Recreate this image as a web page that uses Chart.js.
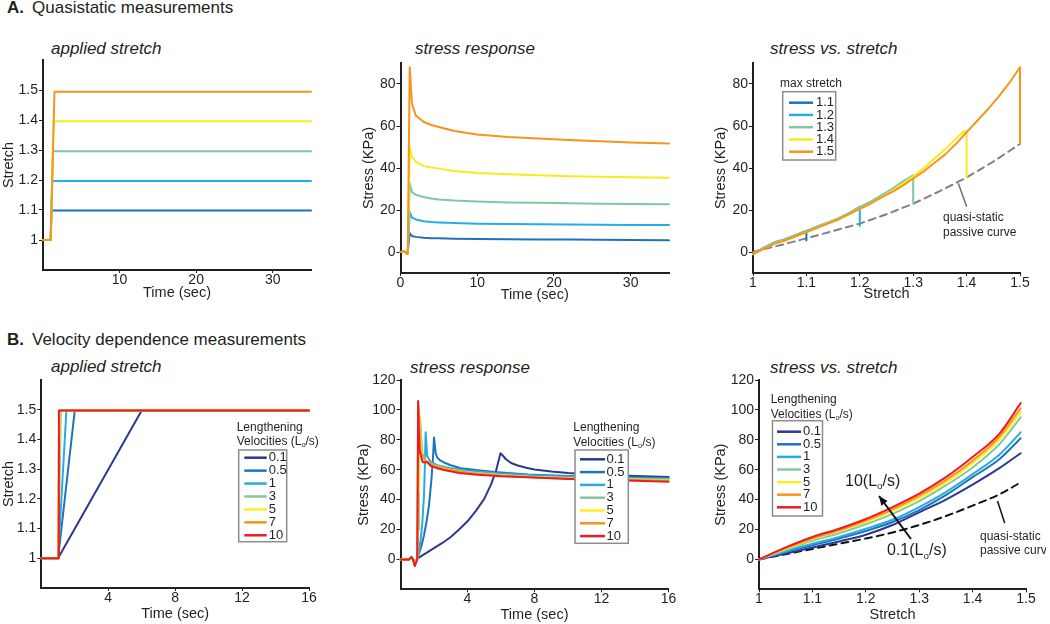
<!DOCTYPE html>
<html>
<head>
<meta charset="utf-8">
<script src="https://cdn.jsdelivr.net/npm/chart.js@4.4.0/dist/chart.umd.min.js"></script>
<style>
  html, body { margin: 0; padding: 0; background: #fff; }
  #page { position: relative; width: 1050px; height: 624px; overflow: hidden;
    font-family: "Liberation Sans", Arial, Helvetica, sans-serif; color: #231f20; }
  canvas { position: absolute; }
  .hd { position: absolute; font-size: 17px; line-height: 20px; white-space: nowrap; }
  .hd span { margin-left: 8px; }
  .pt { position: absolute; font-size: 17px; line-height: 20px; font-style: italic; white-space: nowrap; }
</style>
</head>
<body>
<div id="page">
  <div class="hd" style="left:7px;top:-2px"><b>A.</b><span>Quasistatic measurements</span></div>
  <div class="hd" style="left:7px;top:330px"><b>B.</b><span>Velocity dependence measurements</span></div>

  <div class="pt" style="left:51px;top:39px">applied stretch</div>
  <div class="pt" style="left:415px;top:39px">stress response</div>
  <div class="pt" style="left:770px;top:39px">stress vs. stretch</div>
  <div class="pt" style="left:51px;top:357px">applied stretch</div>
  <div class="pt" style="left:410px;top:358px">stress response</div>
  <div class="pt" style="left:770px;top:358px">stress vs. stretch</div>

  <canvas id="a1"></canvas>
  <canvas id="a2"></canvas>
  <canvas id="a3"></canvas>
  <canvas id="b1"></canvas>
  <canvas id="b2"></canvas>
  <canvas id="b3"></canvas>
</div>

<script>
const FONT = '"Liberation Sans", Arial, Helvetica, sans-serif'
const INK = '#231f20'

// ---- A. quasistatic ----
const maxStretch = ['1.1', '1.2', '1.3', '1.4', '1.5']
const colorsA = ['#1f72b8', '#25aee6', '#80c89d', '#f6ec1c', '#f7941d']

const a1Time = [
  [0, 1, 1.1, 35],
  [0, 1, 1.2, 35],
  [0, 1, 1.3, 35],
  [0, 1, 1.4, 35],
  [0, 1, 1.5, 35]
]
const a1Stretch = [
  [1, 1, 1.098, 1.098],
  [1, 1, 1.197, 1.197],
  [1, 1, 1.296, 1.296],
  [1, 1, 1.396, 1.396],
  [1, 1, 1.494, 1.494]
]

const a2Time = [0, 0.5, 0.85, 0.95, 1.2, 1.5, 2, 3, 4, 5, 7, 10, 14, 18, 22, 26, 30, 35]
const a2Stress = [
  [0, 0.3, -0.5, 0, 9, 7.6, 7.2, 6.8, 6.6, 6.5, 6.3, 6.2, 6.1, 6.0, 5.9, 5.8, 5.7, 5.6],
  [0, 0.3, -0.5, 0, 19, 16.4, 15.5, 14.6, 14.3, 14.1, 13.8, 13.5, 13.3, 13.2, 13.1, 13.0, 12.9, 12.9],
  [0, 0.3, -0.5, 0, 32.6, 28.6, 27.2, 26.2, 25.5, 25, 24.5, 24, 23.6, 23.4, 23.2, 23, 22.9, 22.7],
  [0, 0.3, -0.5, 0, 50, 45.2, 43, 41, 40.2, 39.7, 38.6, 37.6, 37, 36.5, 36.1, 35.8, 35.6, 35.4],
  [0, 0.3, -1, 0, 88, 70.5, 65, 62, 60.5, 59.5, 57.6, 56, 54.8, 54, 53.3, 52.7, 52.2, 51.7]
]

const a3Stretch = [
  [1, 1.02, 1.04, 1.06, 1.08, 1.1, 1.1],
  [1, 1.02, 1.04, 1.06, 1.08, 1.1, 1.12, 1.14, 1.16, 1.18, 1.2, 1.2],
  [1, 1.02, 1.04, 1.06, 1.08, 1.1, 1.12, 1.14, 1.16, 1.18, 1.2, 1.22, 1.24, 1.26, 1.28, 1.3, 1.3],
  [1, 1.02, 1.04, 1.06, 1.08, 1.1, 1.12, 1.14, 1.16, 1.18, 1.2, 1.22, 1.24, 1.26, 1.28, 1.3, 1.32, 1.34, 1.36, 1.38, 1.395, 1.4, 1.4],
  [1, 1.02, 1.04, 1.06, 1.08, 1.1, 1.12, 1.14, 1.16, 1.18, 1.2, 1.22, 1.24, 1.26, 1.28, 1.3, 1.32, 1.34, 1.36, 1.38, 1.4, 1.42, 1.44, 1.46, 1.48, 1.5, 1.5]
]
const a3Stress = [
  [-1, 2, 4.5, 6, 8, 10, 5.5],
  [-1, 2, 4.5, 6, 8, 10, 12, 14, 16, 18.5, 21.5, 12.5],
  [-1, 2, 4.5, 6, 8, 10, 12, 14, 16, 18.5, 21.5, 24, 27, 30, 33.5, 36.5, 23],
  [-1, 1.5, 4, 5.5, 7.5, 9.5, 11.5, 13.5, 15.5, 18, 20.5, 23, 26, 29, 32.5, 36, 40, 44.5, 49, 54, 57.5, 57, 35.5],
  [-1, 1.5, 4, 5.5, 7.5, 9.5, 11.5, 13.5, 15.5, 18, 20.5, 23, 26, 28.5, 31.5, 35, 38.5, 42.5, 46.5, 51.5, 57, 62.5, 68, 74, 80.5, 88, 51.5]
]
const a3PassiveStretch = [1, 1.05, 1.1, 1.15, 1.2, 1.25, 1.3, 1.35, 1.4, 1.45, 1.5]
const a3PassiveStress = [0, 3.2, 6.5, 10, 13.5, 18, 23, 29, 35.5, 43, 51.5]

// ---- B. velocity dependence ----
const velocities = ['0.1', '0.5', '1', '3', '5', '7', '10']
const colorsB = ['#2b3990', '#1c75bc', '#29abe2', '#86c89c', '#fbee23', '#f7941d', '#ed1c24']

const b1Time = [
  [0, 1, 6, 16],
  [0, 1, 2, 16],
  [0, 1, 1.5, 16],
  [0, 1, 1.17, 16],
  [0, 1, 1.1, 16],
  [0, 1, 1.07, 16],
  [0, 1, 1.05, 16]
]
const b1Stretch = [1, 1, 1.497, 1.497]

const b2Time = [
  [0, 0.5, 0.65, 0.75, 0.85, 1.0, 1.5, 2.0, 2.5, 3.0, 3.5, 4.0, 4.5, 5.0, 5.4, 5.7, 5.97, 6.1, 6.3, 6.6, 7, 7.5, 8, 9, 10, 11, 12, 14, 16],
  [0, 0.5, 0.65, 0.75, 0.85, 1.0, 1.1, 1.25, 1.4, 1.55, 1.7, 1.85, 1.95, 2.0, 2.1, 2.2, 2.4, 2.7, 3, 3.6, 4.5, 5.6, 7.6, 10, 12, 14, 16],
  [0, 0.5, 0.65, 0.75, 0.85, 1.0, 1.1, 1.2, 1.3, 1.4, 1.45, 1.5, 1.6, 1.8, 2.2, 3, 4, 6, 8, 10, 12, 16],
  [0, 0.5, 0.65, 0.75, 0.85, 1.0, 1.05, 1.1, 1.17, 1.3, 1.5, 2, 3, 4, 6, 8, 12, 16],
  [0, 0.5, 0.65, 0.75, 0.85, 1.0, 1.05, 1.1, 1.25, 1.5, 2, 3, 4, 6, 8, 12, 16],
  [0, 0.5, 0.65, 0.75, 0.85, 1.0, 1.07, 1.2, 1.5, 2, 3, 4, 6, 8, 12, 16],
  [0, 0.5, 0.65, 0.75, 0.85, 1.0, 1.05, 1.13, 1.33, 1.6, 1.82, 2.2, 2.6, 3.5, 4.6, 6, 7.6, 10, 12, 16]
]
const b2Stress = [
  [0, 0, 1.5, 0, -3, 0.5, 4, 7.5, 11, 15, 20, 25.5, 32.5, 40.5, 50, 59, 71, 69.5, 67, 64.5, 62.8, 61.3, 60.2, 58.8, 57.8, 57.1, 56.6, 55.8, 55.2],
  [0, 0, 1.5, 0, -3, 0.5, 4, 9, 16, 25, 36, 54, 70, 81.5, 71, 68, 66, 64.3, 63, 61, 59.8, 58.4, 56.8, 55.8, 55.2, 54.8, 54.5],
  [0, 0, 1.5, 0, -3, 0.5, 6, 13, 24, 42, 60, 85, 69, 65, 63, 61, 59.5, 57.5, 56.3, 55.5, 54.8, 54],
  [0, 0, 1.5, 0, -3, 0.5, 20, 45, 95, 71, 66, 63, 60, 58.5, 56.5, 55.3, 54, 53.5],
  [0, 0, 1.5, 0, -3.5, 0.5, 45, 100, 71, 66, 62.5, 60, 58.2, 56.3, 55, 53.7, 53],
  [0, 0, 1.5, 0, -4, 0.5, 103, 72, 66, 62.5, 59.8, 58, 56, 54.8, 53.4, 52.6],
  [0, 0, 1.5, 0, -4.5, 0, 106, 73, 65, 65, 62.5, 61, 59.8, 57.8, 56.6, 55.6, 55, 53.8, 53.2, 52]
]

const b3Stretch = [1, 1.05, 1.1, 1.15, 1.2, 1.25, 1.3, 1.35, 1.4, 1.45, 1.49]
const b3Stress = [
  [0, 4, 8, 12, 16.5, 23, 31.5, 40, 50, 61, 71],
  [0, 5, 9.5, 14, 19, 25, 33, 43, 55, 67, 81],
  [0, 5.5, 10.5, 15, 20.5, 26.5, 35, 45, 57, 70, 85],
  [0, 6.5, 12.5, 17.5, 23.5, 30.5, 39, 49.5, 61.5, 77, 95],
  [0, 7, 13.5, 19, 25, 32.5, 41, 51.5, 64.5, 80, 98.5],
  [0, 7.5, 14, 19.5, 26, 33.5, 42.5, 53, 66, 82, 101],
  [0, 8, 15, 20.5, 27, 35, 44, 55, 68.5, 84, 104.5]
]
const b3PassiveStress = [0, 3.5, 7, 10.5, 14, 18, 23, 29, 36, 43.5, 51.5]

// tick labels
const ticksStretchY = [1, 1.1, 1.2, 1.3, 1.4, 1.5]
const ticksA1X = [10, 20, 30]
const ticksA2X = [0, 10, 20, 30]
const ticksStressA = [0, 20, 40, 60, 80]
const ticksStretchX = [1, 1.1, 1.2, 1.3, 1.4, 1.5]
const ticksTimeB = [4, 8, 12, 16]
const ticksStressB = [0, 20, 40, 60, 80, 100, 120]

const toPoints = (xs, ys) => xs.map((x, i) => ({ x, y: ys[i] }))

function series(labels, colors, xsList, ysList, smooth) {
  const n = labels.length
  return labels.map((label, i) => ({
    label,
    data: toPoints(Array.isArray(xsList[0]) ? xsList[i] : xsList, Array.isArray(ysList[0]) ? ysList[i] : ysList),
    borderColor: colors[i],
    borderWidth: 2,
    cubicInterpolationMode: smooth ? 'monotone' : 'default',
    order: n - i + 1,
    clip: false
  }))
}

// draws text pieces, a piece with sub:true is a lowered small letter
function richText(ctx, segs, x, y, size) {
  ctx.textBaseline = 'middle'
  ctx.textAlign = 'left'
  let cx = x
  for (const s of segs) {
    const sz = s.sub ? size * 0.62 : size
    ctx.font = sz + 'px ' + FONT
    ctx.fillText(s.t, cx, s.sub ? y + size * 0.3 : y)
    cx += ctx.measureText(s.t).width
  }
}

const extrasPlugin = {
  id: 'extras',
  afterDatasetsDraw(chart, args, opts) {
    const ctx = chart.ctx
    const ox = opts.ox, oy = opts.oy
    ctx.save()
    ctx.fillStyle = INK
    const lg = opts.legend
    if (lg) {
      lg.title.forEach((segs, i) => richText(ctx, segs, lg.titleX - ox, lg.titleY[i] - oy, 12))
      ctx.fillStyle = '#fff'
      ctx.fillRect(lg.box[0] - ox, lg.box[1] - oy, lg.box[2] - lg.box[0], lg.box[3] - lg.box[1])
      ctx.strokeStyle = '#8c8c8c'
      ctx.lineWidth = 1.5
      ctx.strokeRect(lg.box[0] - ox, lg.box[1] - oy, lg.box[2] - lg.box[0], lg.box[3] - lg.box[1])
      lg.labels.forEach((label, i) => {
        const y = lg.row0 + i * lg.step - oy
        ctx.strokeStyle = lg.colors[i]
        ctx.lineWidth = 2.5
        ctx.beginPath()
        ctx.moveTo(lg.line[0] - ox, y)
        ctx.lineTo(lg.line[1] - ox, y)
        ctx.stroke()
        ctx.fillStyle = INK
        richText(ctx, [{ t: label }], lg.labelX - ox, y, 13)
      })
    }
    for (const a of opts.notes || []) {
      if (a.text) {
        ctx.fillStyle = INK
        richText(ctx, a.text, a.x - ox, a.y - oy, a.size)
      } else {
        ctx.strokeStyle = a.color
        ctx.lineWidth = a.width
        ctx.beginPath()
        ctx.moveTo(a.x1 - ox, a.y1 - oy)
        ctx.lineTo(a.x2 - ox, a.y2 - oy)
        ctx.stroke()
        if (a.arrow) {
          const ang = Math.atan2(a.y2 - a.y1, a.x2 - a.x1)
          const hx = a.x2 - ox, hy = a.y2 - oy
          ctx.fillStyle = a.color
          ctx.beginPath()
          ctx.moveTo(hx, hy)
          ctx.lineTo(hx - 10 * Math.cos(ang - 0.4), hy - 10 * Math.sin(ang - 0.4))
          ctx.lineTo(hx - 10 * Math.cos(ang + 0.4), hy - 10 * Math.sin(ang + 0.4))
          ctx.closePath()
          ctx.fill()
        }
      }
    }
    ctx.restore()
  }
}

function axis(isX, p) {
  const list = isX ? p.xTicks : p.yTicks
  return {
    type: 'linear',
    min: isX ? p.xMin : p.yMin,
    max: isX ? p.xMax : p.yMax,
    afterBuildTicks: s => { s.ticks = list.map(v => ({ value: v })) },
    afterFit: s => {
      if (isX) s.height = p.hx
      else s.width = p.wy
      s.paddingLeft = 0; s.paddingRight = 0; s.paddingTop = 0; s.paddingBottom = 0
    },
    grid: { display: true, drawOnChartArea: false, drawTicks: true, tickLength: isX ? 3 : 4, color: INK, lineWidth: 1 },
    border: { display: true, color: INK, width: 2 },
    ticks: {
      color: INK, font: { family: FONT, size: 14, lineHeight: 1 }, padding: isX ? 0 : 1,
      maxRotation: 0, autoSkip: false, callback: v => String(v)
    },
    title: { display: true, text: isX ? p.xTitle : p.yTitle, color: INK, font: { family: FONT, size: 14.5 }, padding: 0 }
  }
}

function panel(p) {
  const canvas = document.getElementById(p.id)
  canvas.width = p.w
  canvas.height = p.h
  canvas.style.left = p.left + 'px'
  canvas.style.top = p.top + 'px'
  return new Chart(canvas, {
    type: 'line',
    data: { datasets: p.datasets },
    options: {
      responsive: false,
      animation: false,
      events: [],
      layout: { padding: { left: 0, top: p.pt, right: p.pr, bottom: p.pb } },
      elements: { point: { radius: 0 }, line: { tension: 0, borderCapStyle: 'round', borderJoinStyle: 'round' } },
      plugins: {
        legend: { display: false },
        tooltip: { enabled: false },
        extras: { ox: p.left, oy: p.top, legend: p.legend, notes: p.notes }
      },
      scales: { x: axis(true, p), y: axis(false, p) }
    },
    plugins: [extrasPlugin]
  })
}

const velTitle = [[{ t: 'Lengthening' }], [{ t: 'Velocities (L' }, { t: 'o', sub: true }, { t: '/s)' }]]

// A1 applied stretch
panel({
  id: 'a1', left: 0, top: 50, w: 317, h: 254, pt: 10, pr: 6, pb: 2, wy: 43, hx: 32,
  xMin: 0, xMax: 35, yMin: 0.9, yMax: 1.6, xTicks: ticksA1X, yTicks: ticksStretchY,
  xTitle: 'Time (sec)', yTitle: 'Stretch',
  datasets: series(maxStretch, colorsA, a1Time, a1Stretch)
})

// A2 stress response
panel({
  id: 'a2', left: 360, top: 53, w: 315, h: 253, pt: 10, pr: 6, pb: 2, wy: 40.5, hx: 31,
  xMin: 0, xMax: 35, yMin: -10, yMax: 90, xTicks: ticksA2X, yTicks: ticksStressA,
  xTitle: 'Time (sec)', yTitle: 'Stress (KPa)',
  datasets: series(maxStretch, colorsA, a2Time, a2Stress)
})

// A3 stress vs stretch
panel({
  id: 'a3', left: 712, top: 53, w: 328, h: 252, pt: 10, pr: 20, pb: 2, wy: 41, hx: 30,
  xMin: 1, xMax: 1.5, yMin: -10, yMax: 90, xTicks: ticksStretchX, yTicks: ticksStressA,
  xTitle: 'Stretch', yTitle: 'Stress (KPa)',
  datasets: series(maxStretch, colorsA, a3Stretch, a3Stress).concat([{
    label: 'quasi-static passive curve',
    data: toPoints(a3PassiveStretch, a3PassiveStress),
    borderColor: '#808080', borderWidth: 2, borderDash: [7, 5], order: 20, clip: false
  }]),
  legend: {
    title: [[{ t: 'max stretch' }]], titleX: 780, titleY: [84],
    box: [782.7, 91.7, 835.7, 160], labels: maxStretch, colors: colorsA,
    row0: 102.7, step: 12.25, line: [789, 813], labelX: 816
  },
  notes: [
    { x1: 958.3, y1: 183.3, x2: 966.7, y2: 206.7, color: '#707070', width: 1.5 },
    { text: [{ t: 'quasi-static' }], x: 943, y: 218, size: 12 },
    { text: [{ t: 'passive curve' }], x: 943, y: 232.5, size: 12 }
  ]
})

// B1 applied stretch
panel({
  id: 'b1', left: 0, top: 370, w: 321, h: 254, pt: 10, pr: 12, pb: 1, wy: 41.3, hx: 35,
  xMin: 0, xMax: 16, yMin: 0.9, yMax: 1.6, xTicks: ticksTimeB, yTicks: ticksStretchY,
  xTitle: 'Time (sec)', yTitle: 'Stretch',
  datasets: series(velocities, colorsB, b1Time, b1Stretch),
  legend: {
    title: velTitle, titleX: 236.7, titleY: [427.3, 441.7],
    box: [238.7, 450, 286.7, 541.7], labels: velocities, colors: colorsB,
    row0: 457.7, step: 12.93, line: [244.3, 266.7], labelX: 268.7
  }
})

// B2 stress response
panel({
  id: 'b2', left: 355, top: 370, w: 326, h: 254, pt: 10, pr: 12.5, pb: 0.7, wy: 45.5, hx: 34,
  xMin: 0, xMax: 16, yMin: -20, yMax: 120, xTicks: ticksTimeB, yTicks: ticksStressB,
  xTitle: 'Time (sec)', yTitle: 'Stress (KPa)',
  datasets: series(velocities, colorsB, b2Time, b2Stress),
  legend: {
    title: velTitle, titleX: 573.3, titleY: [427.7, 442.3],
    box: [575, 450, 628.3, 543.3], labels: velocities, colors: colorsB,
    row0: 459.3, step: 12.8, line: [580, 605], labelX: 606.5
  }
})

// B3 stress vs stretch
panel({
  id: 'b3', left: 712, top: 370, w: 334, h: 254, pt: 10, pr: 20, pb: 0.7, wy: 47, hx: 34,
  xMin: 1, xMax: 1.5, yMin: -20, yMax: 120, xTicks: ticksStretchX, yTicks: ticksStressB,
  xTitle: 'Stretch', yTitle: 'Stress (KPa)',
  datasets: series(velocities, colorsB, b3Stretch, b3Stress, true).concat([{
    label: 'quasi-static passive curve',
    data: toPoints(b3Stretch, b3PassiveStress),
    borderColor: '#111', borderWidth: 2, borderDash: [7, 5], order: 20, clip: false,
    cubicInterpolationMode: 'monotone'
  }]),
  legend: {
    title: velTitle, titleX: 770.7, titleY: [400, 414.3],
    box: [772.5, 420.7, 822.5, 516], labels: velocities, colors: colorsB,
    row0: 431.7, step: 12.6, line: [777, 801], labelX: 803
  },
  notes: [
    { text: [{ t: '10(L' }, { t: 'o', sub: true }, { t: '/s)' }], x: 845, y: 481.7, size: 16 },
    { text: [{ t: '0.1(L' }, { t: 'o', sub: true }, { t: '/s)' }], x: 887, y: 551, size: 16 },
    { x1: 911, y1: 539, x2: 879, y2: 496, color: '#111', width: 2, arrow: true },
    { x1: 997.5, y1: 501, x2: 1004.7, y2: 523, color: '#111', width: 1.5 },
    { text: [{ t: 'quasi-static' }], x: 980, y: 536.5, size: 12 },
    { text: [{ t: 'passive curve' }], x: 980, y: 550.5, size: 12 }
  ]
})
</script>
</body>
</html>
